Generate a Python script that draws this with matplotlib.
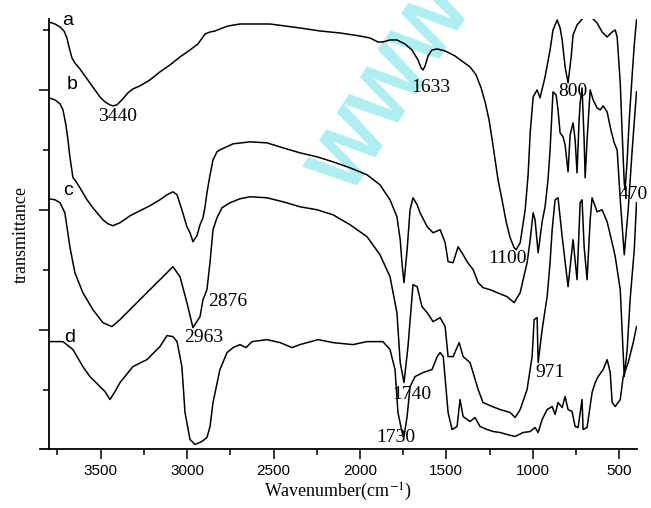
import matplotlib
matplotlib.use("Agg")
import matplotlib.pyplot as plt
from matplotlib.ticker import FixedLocator

plt.rcParams["font.family"] = ["Liberation Sans", "DejaVu Sans"]
plt.rcParams["mathtext.fontset"] = "stix"

# FTIR spectra, offset vertically (arbitrary transmittance units)
a_wn = [3799, 3764, 3735, 3712, 3695, 3683, 3666, 3649, 3620, 3591, 3562, 3533, 3504, 3475,
        3446, 3429, 3406, 3377, 3342, 3313, 3273, 3215, 3157, 3099, 3041, 2983, 2937, 2896,
        2867, 2838, 2810, 2763, 2694, 2607, 2520, 2433, 2347, 2231, 2115, 2000, 1942, 1896,
        1867, 1826, 1786, 1739, 1699, 1664, 1646, 1635, 1623, 1606, 1583, 1553, 1507, 1450,
        1403, 1363, 1328, 1299, 1276, 1253, 1235, 1218, 1201, 1178, 1154, 1131, 1108, 1096,
        1073, 1044, 1027, 1015, 998, 975, 958, 929, 900, 883, 859, 842, 830, 813, 796, 778,
        767, 744, 709, 680, 657, 628, 599, 570, 541, 523, 512, 494, 483, 471, 466, 454, 442,
        425, 413, 400]
a_y = [428, 426, 423, 419, 412, 403, 392, 387, 381, 374, 367, 360, 353, 348,
       345, 344, 345, 350, 357, 361, 364, 370, 378, 385, 393, 400, 406, 416,
       418, 419, 421, 424, 426, 426, 426, 424, 422, 419, 417, 414, 412, 408,
       408, 410, 410, 406, 400, 390, 382, 380, 384, 394, 400, 401, 399, 394,
       388, 383, 375, 362, 348, 330, 310, 290, 270, 250, 228, 212, 202, 200,
       207, 240, 275, 317, 353, 360, 352, 373, 400, 420, 430, 422, 410, 383, 367, 393,
       415, 425, 432, 434, 432, 427, 418, 413, 418, 420, 413, 367, 317, 267, 260, 290, 330,
       375, 405, 430]

b_wn = [3799, 3764, 3735, 3718, 3701, 3689, 3678, 3660, 3649, 3620, 3579, 3545, 3521, 3487,
        3458, 3429, 3388, 3330, 3273, 3215, 3157, 3116, 3082, 3058, 3030, 3001, 2983, 2966,
        2943, 2925, 2908, 2896, 2885, 2867, 2850, 2827, 2810, 2734, 2636, 2538, 2445, 2347,
        2248, 2156, 2057, 1959, 1884, 1826, 1786, 1767, 1756, 1745, 1727, 1710, 1693, 1669,
        1652, 1611, 1577, 1536, 1507, 1490, 1461, 1432, 1403, 1380, 1345, 1316, 1288, 1247,
        1206, 1149, 1108, 1073, 1056, 1033, 1015, 998, 987, 969, 946, 929, 912, 900, 883,
        865, 854, 842, 825, 813, 796, 784, 767, 755, 744, 732, 726, 715, 703, 697, 686, 668,
        651, 628, 610, 593, 570, 552, 541, 529, 512, 494, 471, 448, 425, 400]
b_y = [352, 350, 346, 340, 325, 310, 293, 272, 270, 262, 250, 242, 237, 230,
       226, 224, 227, 234, 239, 244, 250, 255, 258, 255, 240, 223, 217, 208,
       214, 225, 232, 243, 257, 275, 290, 298, 300, 306, 308, 307, 302, 297,
       293, 288, 282, 275, 265, 250, 233, 210, 185, 167, 200, 240, 252, 245,
       237, 223, 217, 220, 207, 188, 187, 203, 195, 188, 180, 167, 162, 160,
       157, 153, 147, 157, 170, 187, 210, 237, 230, 197, 228, 243, 270, 300, 358,
       355, 340, 317, 313, 305, 278, 315, 327, 310, 277, 330, 347, 362, 310, 272, 310, 360,
       350, 342, 340, 344, 338, 323, 315, 307, 300, 250, 195, 240, 300, 358]

c_wn = [3799, 3764, 3735, 3707, 3678, 3649, 3603, 3545, 3487, 3435, 3388, 3313, 3215, 3116,
        3082, 3041, 3001, 2966, 2925, 2908, 2885, 2867, 2850, 2827, 2798, 2752, 2694, 2636,
        2538, 2445, 2347, 2248, 2156, 2057, 1959, 1884, 1826, 1786, 1767, 1745, 1722, 1693,
        1669, 1641, 1611, 1577, 1536, 1507, 1490, 1461, 1426, 1403, 1363, 1316, 1288, 1235,
        1189, 1131, 1102, 1073, 1033, 1004, 992, 975, 969, 946, 917, 900, 888, 871, 854, 830,
        796, 767, 744, 726, 715, 703, 686, 668, 657, 628, 599, 570, 541, 523, 494, 471, 454,
        437, 413, 400]
c_y = [251, 250, 247, 237, 203, 177, 157, 140, 127, 123, 130, 143, 160, 177,
       183, 173, 147, 122, 133, 150, 160, 188, 220, 232, 242, 247, 251, 253,
       252, 248, 243, 240, 235, 225, 213, 195, 173, 137, 87, 67, 103, 165,
       163, 143, 137, 128, 132, 123, 93, 93, 107, 93, 87, 60, 47, 43,
       40, 37, 32, 40, 60, 93, 130, 132, 87, 120, 153, 187, 220, 250, 252, 213,
       163, 210, 170, 247, 250, 203, 170, 230, 252, 238, 240, 228, 207, 193, 160, 73, 100,
       150, 200, 247]

d_wn = [3799, 3718, 3660, 3603, 3562, 3504, 3475, 3446, 3417, 3388, 3313, 3232, 3157, 3116,
        3082, 3058, 3030, 3012, 2983, 2954, 2914, 2885, 2867, 2850, 2810, 2769, 2734, 2694,
        2659, 2624, 2538, 2462, 2393, 2347, 2242, 2156, 2040, 1959, 1867, 1826, 1797, 1780,
        1756, 1745, 1727, 1710, 1681, 1635, 1583, 1553, 1536, 1518, 1490, 1467, 1438, 1421,
        1403, 1363, 1334, 1305, 1264, 1230, 1189, 1149, 1102, 1056, 1015, 987, 969, 946, 917,
        888, 871, 854, 830, 813, 796, 773, 755, 738, 715, 709, 686, 657, 639, 622, 593, 570,
        552, 541, 523, 494, 477, 448, 419, 400]
d_y = [108, 108, 100, 83, 73, 63, 58, 50, 58, 67, 83, 90, 103, 114,
       113, 108, 83, 37, 10, 5, 8, 12, 23, 47, 80, 97, 102, 105,
       102, 108, 110, 107, 102, 105, 110, 107, 105, 108, 108, 100, 80, 37,
       17, 13, 33, 63, 73, 77, 80, 93, 97, 93, 37, 20, 23, 50,
       33, 28, 32, 23, 20, 18, 17, 15, 13, 17, 18, 22, 17, 30, 40,
       43, 35, 47, 42, 53, 40, 38, 23, 22, 50, 20, 22, 57, 67, 73, 80, 90,
       77, 47, 43, 50, 73, 87, 107, 123]

curve_tags = ["a", "b", "c", "d"]
tag_wn = [3689, 3666, 3689, 3678]
tag_y = [429, 365, 259, 112]

peak_text = ["3440", "1633", "800", "470", "1100", "2876", "2963", "1740", "971", "1730"]
peak_wn = [3404, 1589, 767, 419, 1149, 2763, 2902, 1698, 900, 1791]
peak_y = [333, 362, 358, 255, 191, 148, 112, 55, 77, 12]

fig = plt.figure(figsize=(6.51, 5.08), dpi=100)
ax = fig.add_axes([0.0614, 0.1152, 0.9166, 0.8474])

# watermark
ax.text(1800, 360, "WWW", color="#aeeef0", fontsize=58, fontweight="bold",
        rotation=57, ha="center", va="center", zorder=0)

for wn, y in [(a_wn, a_y), (b_wn, b_y), (c_wn, c_y), (d_wn, d_y)]:
    ax.plot(wn, y, color="black", lw=1.1, zorder=2)

for t, x, y in zip(curve_tags, tag_wn, tag_y):
    ax.text(x, y, t, fontsize=14, ha="center", va="center", clip_on=False)

for t, x, y in zip(peak_text, peak_wn, peak_y):
    ax.text(x, y, t, fontsize=14, family="Liberation Serif", ha="center", va="center",
            clip_on=False, zorder=3)

ax.set_xlim(3851, 399)
ax.set_ylim(0, 431)
ax.spines["left"].set_position(("data", 3800))
ax.spines["top"].set_visible(False)
ax.spines["right"].set_visible(False)
for s in ["left", "bottom"]:
    ax.spines[s].set_linewidth(1.3)

ax.xaxis.set_major_locator(FixedLocator([3500, 3000, 2500, 2000, 1500, 1000, 500]))
ax.xaxis.set_minor_locator(FixedLocator([3750, 3250, 2750, 2250, 1750, 1250, 750]))
ax.yaxis.set_major_locator(FixedLocator([120, 240, 360]))
ax.yaxis.set_minor_locator(FixedLocator([60, 180, 300, 420]))
ax.set_yticklabels([])
ax.tick_params(which="major", direction="out", length=7, width=1.1, labelsize=11)
ax.tick_params(which="minor", direction="out", length=4, width=1.1)

ax.set_xlabel("Wavenumber(cm$^{-1}$)", family="Liberation Serif", fontsize=13, labelpad=2)
ax.set_ylabel("transmittance", family="Liberation Serif", fontsize=13, labelpad=3)

fig.savefig("out.png", dpi=100)
